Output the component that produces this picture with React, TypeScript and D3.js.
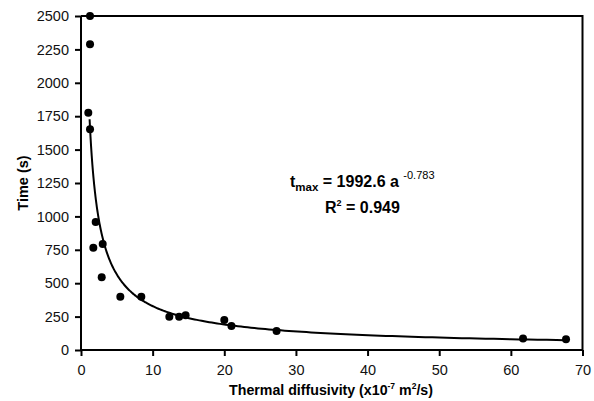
import { useEffect, useRef } from 'react'
import * as d3 from 'd3'

// measured points (thermal diffusivity x1e-7 m2/s, time s)
const diffusivity = [1.26, 1.26, 1.02, 1.26, 2.05, 1.72, 3.03, 2.89, 5.49, 8.42, 12.33, 13.7, 14.6, 20.0, 21.0, 27.3, 61.7, 67.7]
const times = [2500, 2288, 1776, 1652, 958, 766, 793, 544, 399, 399, 249, 249, 260, 225, 180, 142, 87, 80]

// power-law fit printed on the chart
const fitCoef = 1992.6
const fitExp = -0.783
const fitRange = [1.2, 67.7]

const xTicks = [0, 10, 20, 30, 40, 50, 60, 70]
const yTicks = [0, 250, 500, 750, 1000, 1250, 1500, 1750, 2000, 2250, 2500]

const W = 594
const H = 401
const FONT = 'Liberation Sans, Arial, Helvetica, sans-serif'

export default function App() {
  const ref = useRef<SVGSVGElement>(null)

  useEffect(() => {
    if (!ref.current) return
    d3.select(ref.current).selectAll('*').remove()
    render(ref.current)
  }, [])

  return (
    <div style={{ position: 'fixed', left: 0, top: 0 }}>
      <svg ref={ref} width={W} height={H} style={{ display: 'block', background: '#fff' }} />
    </div>
  )
}

function render(el: SVGSVGElement) {
  const svg = d3.select(el).style('font-family', FONT)

  const x = d3.scaleLinear().domain([0, 70]).range([81, 582.5])
  const y = d3.scaleLinear().domain([0, 2500]).range([350, 16])

  // frame (top + right)
  svg.append('path')
    .attr('d', `M${x(0)},${y(2500)}H${x(70)}V${y(0)}`)
    .attr('fill', 'none')
    .attr('stroke', '#000')
    .attr('stroke-width', 2)

  // Y axis
  svg.append('g')
    .attr('transform', `translate(${x(0)},0)`)
    .call(d3.axisLeft(y).tickValues(yTicks).tickSize(6).tickPadding(6).tickFormat((d) => `${d}`))
    .call((s) => s.select('.domain').attr('stroke-width', 2).attr('d', `M0,${y(0)}V${y(2500)}`))
    .call((s) => s.selectAll('line').attr('stroke-width', 2))
    .call((s) => s.selectAll('text').attr('font-size', 14.5).attr('font-family', FONT).attr('fill', '#111'))

  // X axis
  svg.append('g')
    .attr('transform', `translate(0,${y(0)})`)
    .call(d3.axisBottom(x).tickValues(xTicks).tickSize(6).tickPadding(9).tickFormat((d) => `${d}`))
    .call((s) => s.select('.domain').attr('stroke-width', 2).attr('d', `M${x(0)},0H${x(70)}`))
    .call((s) => s.selectAll('line').attr('stroke-width', 2))
    .call((s) => s.selectAll('text').attr('font-size', 14.5).attr('font-family', FONT).attr('fill', '#111'))

  // fit curve
  const fitXs = d3.range(0, 201).map((i) => fitRange[0] * Math.pow(fitRange[1] / fitRange[0], i / 200))
  const line = d3.line<number>()
    .x((a) => x(a))
    .y((a) => y(fitCoef * Math.pow(a, fitExp)))
    .curve(d3.curveBasis)
  svg.append('path')
    .datum(fitXs)
    .attr('d', line)
    .attr('fill', 'none')
    .attr('stroke', '#000')
    .attr('stroke-width', 2)

  // points
  svg.append('g')
    .selectAll('circle')
    .data(diffusivity)
    .join('circle')
    .attr('cx', (d) => x(d))
    .attr('cy', (_, i) => y(times[i]))
    .attr('r', 4)
    .attr('fill', '#000')

  // equation
  const eq = svg.append('text')
    .attr('x', 290)
    .attr('y', 187)
    .attr('font-size', 16)
    .attr('font-weight', 'bold')
    .attr('fill', '#000')
  eq.append('tspan').text('t')
  eq.append('tspan').attr('font-size', 11.5).attr('dy', 4).text('max')
  eq.append('tspan').attr('dy', -4).text(' = 1992.6 a ')
  eq.append('tspan').attr('font-size', 11).attr('font-weight', 'normal').attr('dy', -8).text('-0.783')

  const r2 = svg.append('text')
    .attr('x', 325)
    .attr('y', 213)
    .attr('font-size', 16)
    .attr('font-weight', 'bold')
    .attr('fill', '#000')
  r2.append('tspan').text('R')
  r2.append('tspan').attr('font-size', 9).attr('dy', -7).text('2')
  r2.append('tspan').attr('dy', 7).text(' = 0.949')

  // axis titles
  svg.append('text')
    .attr('transform', `translate(28,${(y(0) + y(2500)) / 2}) rotate(-90)`)
    .attr('text-anchor', 'middle')
    .attr('font-size', 14.5)
    .attr('font-weight', 'bold')
    .text('Time (s)')

  const xl = svg.append('text')
    .attr('x', 331)
    .attr('y', 395)
    .attr('text-anchor', 'middle')
    .attr('font-size', 14.2)
    .attr('font-weight', 'bold')
  xl.append('tspan').text('Thermal diffusivity (x10')
  xl.append('tspan').attr('font-size', 8.5).attr('dy', -6).text('-7')
  xl.append('tspan').attr('dy', 6).text(' m')
  xl.append('tspan').attr('font-size', 8.5).attr('dy', -6).text('2')
  xl.append('tspan').attr('dy', 6).text('/s)')
}
